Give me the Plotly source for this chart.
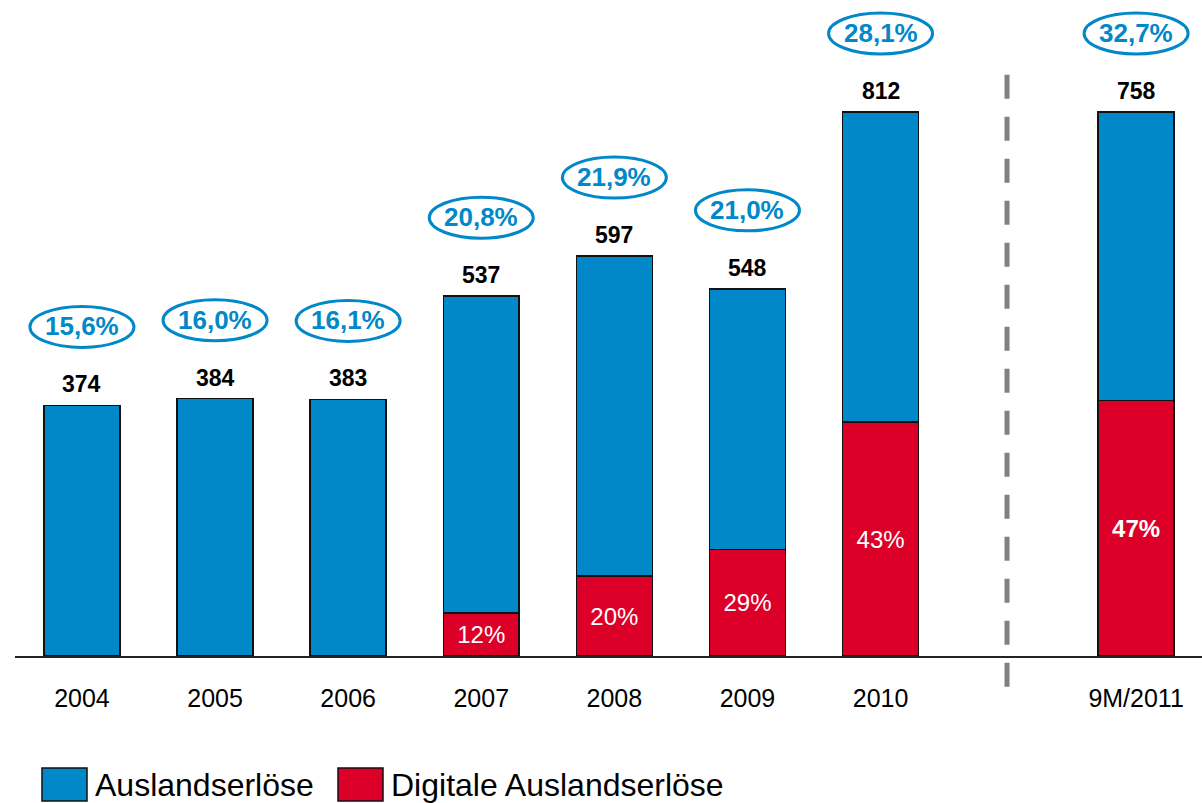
import plotly.graph_objects as go

years = ['2004', '2005', '2006', '2007', '2008', '2009', '2010']
totals = [374, 384, 383, 537, 597, 548, 812]
digital_share = [0, 0, 0, 12, 20, 29, 43]
foreign_share = ['15,6%', '16,0%', '16,1%', '20,8%', '21,9%', '21,0%', '28,1%']

ytd_label = '9M/2011'
ytd_total = 758
ytd_digital_share = 47
ytd_foreign_share = '32,7%'

name_total = 'Auslandserlöse'
name_digital = 'Digitale Auslandserlöse'

BLUE = '#0088C9'
RED = '#DC0029'
FONT = 'Liberation Sans, Arial, sans-serif'

xs = list(range(len(years)))
x_ytd = 7.92
bw = 0.57

digital = [t * s / 100 for t, s in zip(totals, digital_share)]
rest = [t - d for t, d in zip(totals, digital)]
ytd_digital = ytd_total * ytd_digital_share / 100

fig = go.Figure()
line = dict(color='#111111', width=1.5)

fig.add_trace(go.Bar(x=xs, y=digital, width=bw, marker=dict(color=RED, line=line),
                     text=[f'{s}%' if s else '' for s in digital_share],
                     textposition='inside', insidetextanchor='middle', textangle=0,
                     textfont=dict(color='white', size=24, family=FONT), name=name_digital))
fig.add_trace(go.Bar(x=xs, y=rest, width=bw, marker=dict(color=BLUE, line=line), name=name_total))

# 9M/2011 drawn on its own scale
fig.add_trace(go.Bar(x=[x_ytd], y=[ytd_digital], width=bw, marker=dict(color=RED, line=line),
                     text=[f'<b>{ytd_digital_share}%</b>'], textposition='inside',
                     insidetextanchor='middle', textangle=0,
                     textfont=dict(color='white', size=24, family=FONT), yaxis='y2'))
fig.add_trace(go.Bar(x=[x_ytd], y=[ytd_total - ytd_digital], width=bw,
                     marker=dict(color=BLUE, line=line), yaxis='y2'))

ymax = 812 * 656 / 544
y2max = ymax * ytd_total / 812

def label(x, total, share, yref):
    fig.add_annotation(x=x, y=total, xref='x', yref=yref, text=f'<b>{total}</b>',
                       showarrow=False, yanchor='bottom', yshift=6,
                       font=dict(size=23, color='black', family=FONT))
    fig.add_annotation(x=x, y=total, xref='x', yref=yref, text=f'<b>{share}</b>',
                       showarrow=False, yanchor='middle', yshift=79,
                       font=dict(size=26, color=BLUE, family=FONT))
    fig.add_shape(type='circle', xref='x', yref=yref, xsizemode='pixel', ysizemode='pixel',
                  xanchor=x, yanchor=total, x0=-52, x1=52, y0=58, y1=99,
                  line=dict(color=BLUE, width=3))

for x, t, s in zip(xs, totals, foreign_share):
    label(x, t, s, 'y')
label(x_ytd, ytd_total, ytd_foreign_share, 'y2')

# dashed separator
fig.add_shape(type='line', xref='x', yref='paper', x0=6.95, x1=6.95, y0=-0.047, y1=0.886,
              line=dict(color='#808080', width=5, dash='24px,18px'))

# legend
for i, (col, name) in enumerate([(BLUE, name_total), (RED, name_digital)]):
    x0 = [42, 338][i]
    fig.add_shape(type='rect', xref='paper', yref='paper',
                  x0=(x0 - 15) / 1187, x1=(x0 + 45 - 15) / 1187,
                  y0=-(768 - 656) / 656, y1=-(801 - 656) / 656,
                  fillcolor=col, line=dict(color='#111111', width=1.5))
    fig.add_annotation(xref='paper', yref='paper', x=(x0 + 51 - 15) / 1187,
                       y=-(785 - 656) / 656, text=name, showarrow=False,
                       xanchor='left', yanchor='middle',
                       font=dict(size=32, color='black', family=FONT))

fig.update_layout(
    width=1202, height=803, barmode='stack', showlegend=False,
    paper_bgcolor='white', plot_bgcolor='white',
    margin=dict(l=15, r=0, t=0, b=147),
    xaxis=dict(range=[-0.503, 8.415], tickvals=xs + [x_ytd], ticktext=years + [ytd_label],
               showgrid=False, zeroline=False, showline=True, linecolor='#222222', linewidth=2,
               ticks='outside', ticklen=19, tickcolor='rgba(0,0,0,0)',
               tickfont=dict(size=25, color='black', family=FONT)),
    yaxis=dict(range=[0, ymax], visible=False),
    yaxis2=dict(range=[0, y2max], visible=False, overlaying='y'),
)

fig.write_html('out.html', config={'displayModeBar': False},
               post_script="document.body.style.margin='0';")
